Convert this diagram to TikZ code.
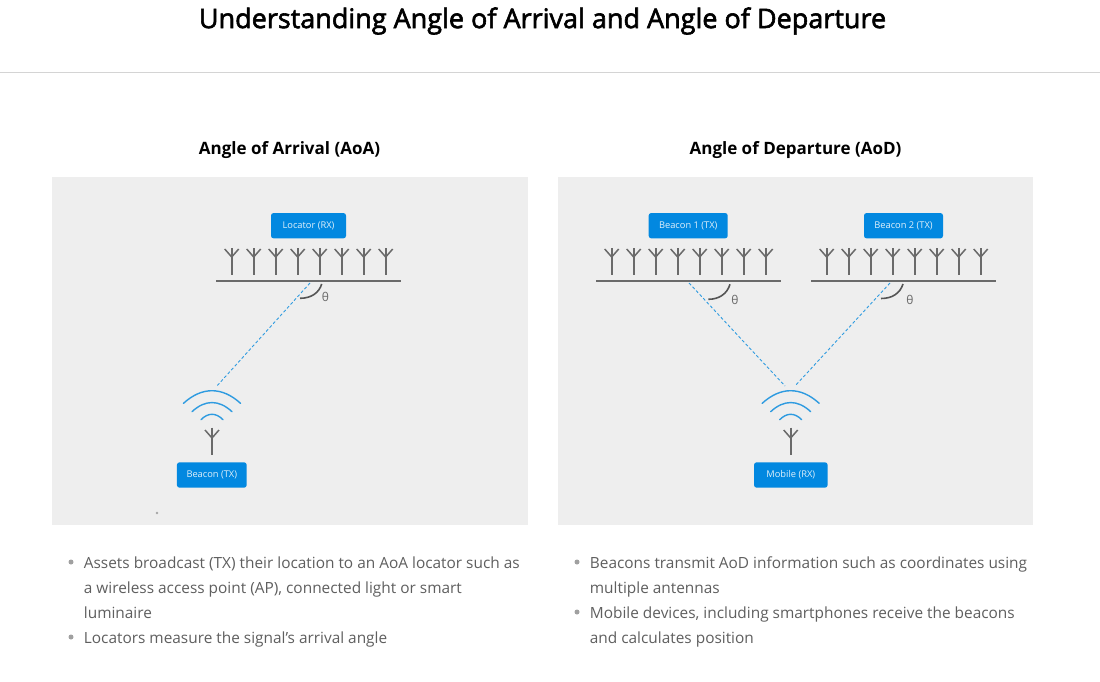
\documentclass[tikz,border=0pt]{standalone}
\usepackage{fontspec}
\setmainfont{Open Sans}
\newfontfamily\semifont[FakeBold=2.2]{Open Sans}
\definecolor{panel}{HTML}{EEEEEE}
\definecolor{boxblue}{HTML}{0288E0}
\definecolor{wave}{HTML}{2E9BE0}
\definecolor{ant}{HTML}{6A6A6A}
\definecolor{txt}{HTML}{5F5F5F}
\definecolor{bul}{HTML}{A0A0A0}
\tikzset{
  panelbox/.style={fill=panel,draw=none,minimum height=348pt,inner sep=0pt,outer sep=0pt},
  tagbox/.style={fill=boxblue,draw=none,rounded corners=2.5pt,minimum height=25.3pt,inner sep=0pt,text=white!88!boxblue,font=\fontsize{9.3}{11}\selectfont},
  heading/.style={font=\bfseries\fontsize{17}{20}\selectfont,text=black,inner sep=0pt},
  antline/.style={draw=ant,line width=1.8pt},
  baseline/.style={draw=ant,line width=1.8pt},
  wavearc/.style={draw=wave,line width=1.4pt,line cap=round},
  ray/.style={draw=wave,line width=0.9pt,dash pattern=on 3pt off 2.2pt},
  anglearc/.style={draw=ant!80!black,line width=1.6pt},
  thetalabel/.style={font=\fontsize{12}{14}\selectfont,text=ant,inner sep=0pt},
  bullettext/.style={anchor=north west,align=left,inner sep=0pt,text=txt,font=\fontsize{15.4}{25}\selectfont},
  bulletdot/.style={circle,fill=bul,minimum size=5pt,inner sep=0pt},
}
\newcommand{\antenna}[2]{% x, top y
  \draw[antline] (#1,#2) -- (#1,#2+27);
  \draw[antline,line width=1.5pt] (#1-7,#2+1) -- (#1,#2+9) -- (#1+7,#2+1);
}
\newcommand{\antrow}[1]{\foreach \k in {0,...,7}{\antenna{#1+22*\k}{248}}}
\newcommand{\waves}[1]{% centre x
  \draw[wavearc] (#1-28.5,403.3) .. controls (#1-10,386.5) and (#1+10,386.5) .. (#1+28.5,403.3);
  \draw[wavearc] (#1-20,411.7) .. controls (#1-7,399.5) and (#1+7,399.5) .. (#1+20,411.7);
  \draw[wavearc] (#1-11,419.7) .. controls (#1-4,412.5) and (#1+4,412.5) .. (#1+11,419.7);
  \draw[antline] (#1,427.7) -- (#1,455);
  \draw[antline,line width=1.5pt] (#1-7,430) -- (#1,438) -- (#1+7,430);
}
\begin{document}
\begin{tikzpicture}[x=1pt,y=-1pt]
\useasboundingbox (0,0) rectangle (1100,682);
\fill[white] (0,0) rectangle (1100,682);
\node[inner sep=0pt,font=\semifont\fontsize{27}{30}\selectfont,text=black] (title) at (542.5,21) {Understanding Angle of Arrival and Angle of Departure};
\coordinate (ruleL) at (0,72.5);
\coordinate (ruleR) at (1100,72.5);
\draw[draw=black!17,line width=0.8pt] (ruleL) -- (ruleR);

\node[heading] (headA) at (289.5,150) {Angle of Arrival (AoA)};
\node[heading] (headD) at (795.5,150) {Angle of Departure (AoD)};

\node[panelbox,minimum width=476pt] (panelA) at (290,351) {};
\node[panelbox,minimum width=475pt] (panelD) at (795.5,351) {};
\fill[black!35] (157,513) circle (1.3);

% AoA
\node[tagbox,minimum width=75pt] (locator) at (308.5,225.7) {Locator (RX)};
\antrow{231.7}
\coordinate (locL) at (216,281);
\coordinate (locR) at (401,281);
\draw[baseline] (locL) -- (locR);
\coordinate (rayA1) at (310,283);
\coordinate (rayA2) at (216,387);
\draw[ray] (rayA1) -- (rayA2);
\draw[anglearc] (300,298.3) .. controls (311,298.3) and (319,293) .. (321.7,284);
\node[thetalabel] (thetaA) at (325.5,296.5) {θ};
\waves{212}
\node[tagbox,minimum width=69.7pt] (beacon) at (211.8,475) {Beacon (TX)};

% AoD
\node[tagbox,minimum width=79pt] (beaconA) at (688.2,225.7) {Beacon 1 (TX)};
\node[tagbox,minimum width=79pt] (beaconB) at (903.5,225.7) {Beacon 2 (TX)};
\antrow{611.7}
\antrow{826.7}
\coordinate (b1L) at (596,281);
\coordinate (b1R) at (781,281);
\coordinate (b2L) at (811,281);
\coordinate (b2R) at (996,281);
\draw[baseline] (b1L) -- (b1R);
\draw[baseline] (b2L) -- (b2R);
\coordinate (rayB1) at (689,283);
\coordinate (rayB2) at (785,386);
\coordinate (rayC1) at (890,283);
\coordinate (rayC2) at (795,386);
\draw[ray] (rayB1) -- (rayB2);
\draw[ray] (rayC1) -- (rayC2);
\draw[anglearc] (708.3,299.3) .. controls (719,299.3) and (727,294) .. (730,284.3);
\draw[anglearc] (881,298.5) .. controls (892,298.5) and (900,293.5) .. (903,284);
\node[thetalabel] (thetaB) at (735,300) {θ};
\node[thetalabel] (thetaC) at (910,299.5) {θ};
\waves{790.7}
\node[tagbox,minimum width=73.5pt] (mobile) at (790.8,475) {Mobile (RX)};

% bullets
\node[bulletdot] (d1) at (71,562) {};
\node[bullettext] (t1) at (83.7,556.5) {Assets broadcast (TX) their location to an AoA locator such as\\a wireless access point (AP), connected light or smart\\luminaire};
\node[bulletdot] (d2) at (71,637) {};
\node[bullettext] (t2) at (83.7,631.5) {Locators measure the signal’s arrival angle};
\node[bulletdot] (d3) at (577,562) {};
\node[bullettext] (t3) at (589.7,556.5) {Beacons transmit AoD information such as coordinates using\\multiple antennas};
\node[bulletdot] (d4) at (577,612) {};
\node[bullettext] (t4) at (589.7,606.5) {Mobile devices, including smartphones receive the beacons\\and calculates position};
\end{tikzpicture}
\end{document}
